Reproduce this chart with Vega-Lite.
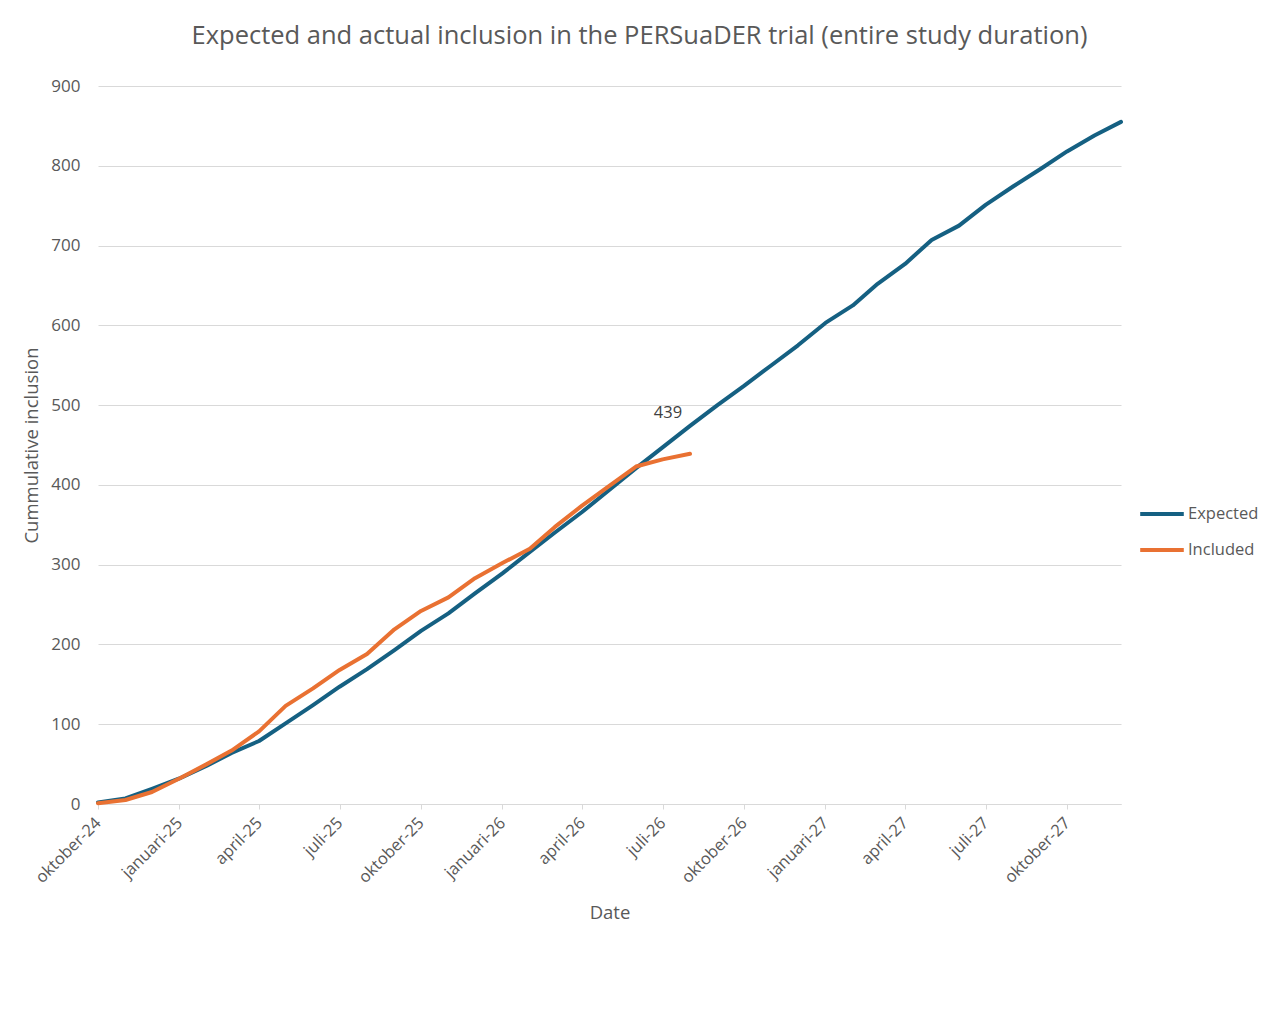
{
  "$schema": "https://vega.github.io/schema/vega-lite/v6.json",
  "autosize": {"type": "none"},
  "width": 1023,
  "height": 718,
  "padding": {"left": 98, "top": 86, "right": 159, "bottom": 205},
  "background": "white",
  "view": {"stroke": null},
  "title": {
    "text": "Expected and actual inclusion in the PERSuaDER trial (entire study duration)",
    "fontSize": 25.5,
    "font": "Open Sans",
    "fontWeight": "normal",
    "color": "#595959",
    "anchor": "middle",
    "frame": "group",
    "dx": 30,
    "offset": 28
  },
  "data": {
    "values": [
      {"date": "2024-10-01", "series": "Expected", "value": 2},
      {"date": "2024-11-01", "series": "Expected", "value": 7},
      {"date": "2024-12-01", "series": "Expected", "value": 19},
      {"date": "2025-01-01", "series": "Expected", "value": 32},
      {"date": "2025-02-01", "series": "Expected", "value": 48},
      {"date": "2025-03-01", "series": "Expected", "value": 64},
      {"date": "2025-04-01", "series": "Expected", "value": 79},
      {"date": "2025-05-01", "series": "Expected", "value": 101},
      {"date": "2025-06-01", "series": "Expected", "value": 124},
      {"date": "2025-07-01", "series": "Expected", "value": 147},
      {"date": "2025-08-01", "series": "Expected", "value": 169},
      {"date": "2025-09-01", "series": "Expected", "value": 193},
      {"date": "2025-10-01", "series": "Expected", "value": 217},
      {"date": "2025-11-01", "series": "Expected", "value": 239},
      {"date": "2025-12-01", "series": "Expected", "value": 264},
      {"date": "2026-01-01", "series": "Expected", "value": 289},
      {"date": "2026-02-01", "series": "Expected", "value": 316},
      {"date": "2026-03-01", "series": "Expected", "value": 340},
      {"date": "2026-04-01", "series": "Expected", "value": 366},
      {"date": "2026-05-01", "series": "Expected", "value": 393},
      {"date": "2026-06-01", "series": "Expected", "value": 421},
      {"date": "2026-07-01", "series": "Expected", "value": 447},
      {"date": "2026-08-01", "series": "Expected", "value": 474},
      {"date": "2026-09-01", "series": "Expected", "value": 500},
      {"date": "2026-10-01", "series": "Expected", "value": 524},
      {"date": "2026-11-01", "series": "Expected", "value": 550},
      {"date": "2026-12-01", "series": "Expected", "value": 575},
      {"date": "2027-01-01", "series": "Expected", "value": 603},
      {"date": "2027-02-01", "series": "Expected", "value": 625},
      {"date": "2027-03-01", "series": "Expected", "value": 652},
      {"date": "2027-04-01", "series": "Expected", "value": 677},
      {"date": "2027-05-01", "series": "Expected", "value": 707},
      {"date": "2027-06-01", "series": "Expected", "value": 725},
      {"date": "2027-07-01", "series": "Expected", "value": 751},
      {"date": "2027-08-01", "series": "Expected", "value": 774},
      {"date": "2027-09-01", "series": "Expected", "value": 796},
      {"date": "2027-10-01", "series": "Expected", "value": 818},
      {"date": "2027-11-01", "series": "Expected", "value": 838},
      {"date": "2027-12-01", "series": "Expected", "value": 855},
      {"date": "2024-10-01", "series": "Included", "value": 1},
      {"date": "2024-11-01", "series": "Included", "value": 5},
      {"date": "2024-12-01", "series": "Included", "value": 15},
      {"date": "2025-01-01", "series": "Included", "value": 32},
      {"date": "2025-02-01", "series": "Included", "value": 50},
      {"date": "2025-03-01", "series": "Included", "value": 67},
      {"date": "2025-04-01", "series": "Included", "value": 91},
      {"date": "2025-05-01", "series": "Included", "value": 123},
      {"date": "2025-06-01", "series": "Included", "value": 145},
      {"date": "2025-07-01", "series": "Included", "value": 168},
      {"date": "2025-08-01", "series": "Included", "value": 188},
      {"date": "2025-09-01", "series": "Included", "value": 219},
      {"date": "2025-10-01", "series": "Included", "value": 242},
      {"date": "2025-11-01", "series": "Included", "value": 259},
      {"date": "2025-12-01", "series": "Included", "value": 283},
      {"date": "2026-01-01", "series": "Included", "value": 302},
      {"date": "2026-02-01", "series": "Included", "value": 320},
      {"date": "2026-03-01", "series": "Included", "value": 347},
      {"date": "2026-04-01", "series": "Included", "value": 374},
      {"date": "2026-05-01", "series": "Included", "value": 398},
      {"date": "2026-06-01", "series": "Included", "value": 423},
      {"date": "2026-07-01", "series": "Included", "value": 432},
      {"date": "2026-08-01", "series": "Included", "value": 439}
    ]
  },
  "encoding": {
    "x": {
      "field": "date",
      "type": "temporal",
      "title": "Date",
      "scale": {
        "type": "utc",
        "domain": [
          {"year": 2024, "month": 10, "date": 1, "utc": true},
          {"year": 2027, "month": 12, "date": 1, "utc": true}
        ],
        "nice": false
      },
      "axis": {
        "tickCount": {"interval": "month", "step": 3},
        "grid": false,
        "domainColor": "#d9d9d9",
        "tickColor": "#d9d9d9",
        "tickSize": 5,
        "labelAngle": 315,
        "labelAlign": "right",
        "labelBaseline": "middle",
        "labelPadding": 11,
        "labelFont": "Open Sans",
        "labelFontSize": 16.5,
        "labelColor": "#595959",
        "labelOverlap": false,
        "labelFlush": false,
        "labelExpr": "['januari','februari','maart','april','mei','juni','juli','augustus','september','oktober','november','december'][utcmonth(datum.value)] + '-' + utcFormat(datum.value, '%y')",
        "titleFont": "Open Sans",
        "titleFontSize": 18.5,
        "titleFontWeight": "normal",
        "titleColor": "#595959",
        "titlePadding": 18
      }
    },
    "y": {
      "field": "value",
      "type": "quantitative",
      "title": "Cummulative inclusion",
      "scale": {"domain": [0, 900], "nice": false},
      "axis": {
        "values": [0, 100, 200, 300, 400, 500, 600, 700, 800, 900],
        "domain": false,
        "ticks": false,
        "gridColor": "#d9d9d9",
        "labelPadding": 18,
        "labelFont": "Open Sans",
        "labelFontSize": 17,
        "labelColor": "#595959",
        "titleFont": "Open Sans",
        "titleFontSize": 18.5,
        "titleFontWeight": "normal",
        "titleColor": "#595959",
        "titlePadding": 9
      }
    }
  },
  "layer": [
    {
      "mark": {"type": "line", "strokeWidth": 4, "strokeCap": "round", "strokeJoin": "round"},
      "encoding": {
        "color": {
          "field": "series",
          "type": "nominal",
          "scale": {"domain": ["Expected", "Included"], "range": ["#156082", "#E97132"]},
          "legend": {
            "title": null,
            "orient": "none",
            "legendX": 1040,
            "legendY": 404,
            "symbolType": "stroke",
            "symbolSize": 1900,
            "symbolStrokeWidth": 4,
            "rowPadding": 3,
            "labelOffset": 2,
            "labelFont": "Open Sans",
            "labelFontSize": 16.5,
            "labelColor": "#595959"
          }
        }
      }
    },
    {
      "transform": [{"filter": "datum.series === 'Included' && datum.value === 439"}],
      "mark": {
        "type": "text",
        "font": "Open Sans",
        "fontSize": 16.5,
        "color": "#404040",
        "dx": -22,
        "dy": -41
      },
      "encoding": {"text": {"field": "value", "type": "quantitative"}}
    }
  ]
}
